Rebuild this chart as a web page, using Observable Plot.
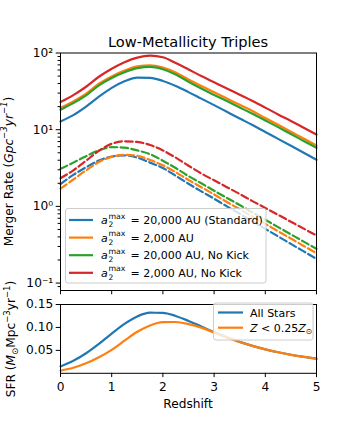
<!DOCTYPE html>
<html>
<head>
<meta charset="utf-8">
<script src="https://cdn.jsdelivr.net/npm/d3@7"></script>
<script src="https://cdn.jsdelivr.net/npm/@observablehq/plot@0.6"></script>
<style>
html,body{margin:0;padding:0;background:#fff;}
#wrap{position:relative;width:352px;height:440px;overflow:hidden;font-family:"DejaVu Sans",sans-serif;}
#wrap svg{position:absolute;left:0;}
</style>
</head>
<body>
<div id="wrap"></div>
<script>
// ---- data ----
const redshift = [0,0.25,0.5,0.75,1,1.25,1.5,1.75,2,2.25,2.5,2.75,3,3.25,3.5,3.75,4,4.25,4.5,4.75,5];

// merger rates (Gpc^-3 yr^-1), solid curves
const standardSolid    = [12.8,15.5,20.0,26.9,35.1,42.7,47.6,47.3,43.2,37.2,30.9,25.4,20.9,17.1,14.0,11.5,9.33,7.59,6.17,5.01,4.06];
const a2000Solid       = [19.3,23.4,29.5,39.8,49.5,58.9,66.8,69.2,64.6,55.6,45.2,37.1,30.8,25.5,21.1,17.5,14.2,11.6,9.42,7.66,6.22];
const noKickSolid      = [18.2,22.2,28.0,37.8,47.3,56.2,63.5,65.8,61.4,52.5,42.2,34.4,28.4,23.6,19.5,16.1,13.2,10.8,8.77,7.14,5.81];
const a2000NoKickSolid = [22.9,28.2,36.3,49.0,62.4,75.9,87.1,92.3,88.1,74.1,61.0,50.1,41.5,34.4,28.6,23.7,19.4,15.8,13.0,10.6,8.65];

// dashed curves
const standardDashed    = [1.95,2.57,3.24,3.96,4.47,4.61,4.32,3.72,3.16,2.51,1.97,1.57,1.26,1.00,0.800,0.638,0.509,0.406,0.324,0.259,0.207];
const a2000Dashed       = [1.70,2.24,2.95,3.78,4.42,4.70,4.57,4.03,3.43,2.79,2.21,1.78,1.43,1.14,0.918,0.736,0.592,0.474,0.381,0.305,0.245];
const noKickDashed      = [3.08,3.72,4.52,5.37,5.92,5.82,5.37,4.79,3.94,3.16,2.48,2.00,1.60,1.29,1.04,0.832,0.668,0.537,0.432,0.347,0.280];
const a2000NoKickDashed = [2.33,2.95,3.94,5.31,6.55,7.05,6.92,6.31,5.37,4.32,3.39,2.69,2.19,1.78,1.45,1.17,0.955,0.776,0.631,0.513,0.418];

// star formation rate (Msun Mpc^-3 yr^-1)
const sfrAllStars = [0.0150,0.0272,0.0438,0.0642,0.0867,0.1079,0.1240,0.1321,0.1319,0.1250,0.1142,0.1020,0.0898,0.0786,0.0685,0.0598,0.0523,0.0459,0.0404,0.0358,0.0318];
const sfrLowZ     = [0.0060,0.0122,0.0219,0.0350,0.0511,0.0712,0.0905,0.1044,0.1115,0.1119,0.1073,0.0995,0.0889,0.0783,0.0684,0.0597,0.0522,0.0458,0.0403,0.0357,0.0317];

const seriesLabels = ["= 20,000 AU (Standard)", "= 2,000 AU", "= 20,000 AU, No Kick", "= 2,000 AU, No Kick"];
const colors = ["#1f77b4","#ff7f0e","#2ca02c","#d62728"];
const majorTicks = [0.1, 1, 10, 100];
const majorLabels = ["10⁻¹", "10⁰", "10¹", "10²"];
const minorTicks = [0.09,0.2,0.3,0.4,0.5,0.6,0.7,0.8,0.9,2,3,4,5,6,7,8,9,20,30,40,50,60,70,80,90];
const xTicks = [0,1,2,3,4,5];
const sfrTicks = [0.05,0.10,0.15];

// ---- build ----
const FONT = "DejaVu Sans, sans-serif";
const rows = arr => redshift.map((z,i)=>({z, v: arr[i]}));
const solid = [standardSolid, a2000Solid, noKickSolid, a2000NoKickSolid];
const dashed = [standardDashed, a2000Dashed, noKickDashed, a2000NoKickDashed];

const mainMarks = [];
solid.forEach((arr,i)=>{
  mainMarks.push(Plot.line(rows(arr), {x:"z", y:"v", stroke: colors[i], strokeWidth: 2.2, curve: "monotone-x"}));
  mainMarks.push(Plot.line(rows(dashed[i]), {x:"z", y:"v", stroke: colors[i], strokeWidth: 2.2, strokeDasharray: "7.5,3.3", curve: "monotone-x"}));
});
mainMarks.push(
  Plot.axisY(minorTicks, {tickSize: 2.4, tickFormat: () => "", label: null}),
  Plot.axisY(majorTicks, {tickSize: 4.3, tickPadding: 3, tickFormat: d => majorLabels[majorTicks.indexOf(d)], label: null}),
  Plot.axisX(xTicks, {tickSize: 4.3, tickFormat: () => "", label: null}),
  Plot.frame({stroke: "black", strokeWidth: 1})
);

const mainSvg = Plot.plot({
  width: 352, height: 300,
  marginTop: 52.5, marginBottom: 10, marginLeft: 60, marginRight: 36,
  x: {domain: [0,5]},
  y: {type: "log", domain: [0.08, 100]},
  style: {fontFamily: FONT, fontSize: "12.2px", background: "transparent", overflow: "visible", color: "black"},
  marks: mainMarks
});
mainSvg.style.top = "0px";

const sfrSvg = Plot.plot({
  width: 352, height: 130,
  marginTop: 14, marginBottom: 47.2, marginLeft: 60, marginRight: 36,
  x: {domain: [0,5]},
  y: {domain: [0, 0.15]},
  style: {fontFamily: FONT, fontSize: "12.2px", background: "transparent", overflow: "visible", color: "black"},
  marks: [
    Plot.line(rows(sfrAllStars), {x:"z", y:"v", stroke: colors[0], strokeWidth: 2.2, curve: "monotone-x"}),
    Plot.line(rows(sfrLowZ), {x:"z", y:"v", stroke: colors[1], strokeWidth: 2.2, curve: "monotone-x"}),
    Plot.axisY(sfrTicks, {tickSize: 4.3, tickPadding: 3, tickFormat: d3.format(".2f"), label: null}),
    Plot.axisX(xTicks, {tickSize: 4.3, tickPadding: 5, tickFormat: d3.format("d"), label: null}),
    Plot.frame({stroke: "black", strokeWidth: 1})
  ]
});
sfrSvg.style.top = "290px";

const wrap = document.getElementById("wrap");
wrap.appendChild(mainSvg);
wrap.appendChild(sfrSvg);

// rich text helper
function richText(sel, x, y, parts, {size = 12.2, anchor = "start", rotate = 0} = {}) {
  const t = sel.append("text")
    .attr("transform", `translate(${x},${y}) rotate(${rotate})`)
    .attr("text-anchor", anchor)
    .attr("font-size", size)
    .attr("font-family", FONT)
    .attr("fill", "black");
  let shift = 0;
  parts.forEach(p => {
    const ts = t.append("tspan").text(p.t);
    let target = 0, fs = size;
    if (p.sup) { target = -size * 0.42; fs = size * 0.7; }
    if (p.sub) { target = size * 0.22; fs = size * 0.7; }
    ts.attr("dy", target - shift).attr("font-size", fs);
    if (p.i) ts.attr("font-style", "italic");
    shift = target;
  });
  return t;
}
function plainText(sel, x, y, str, size, anchor = "start", italic = false) {
  const t = sel.append("text").attr("x", x).attr("y", y).attr("text-anchor", anchor)
    .attr("font-size", size).attr("font-family", FONT).attr("fill", "black").text(str);
  if (italic) t.attr("font-style", "italic");
  return t;
}

const m = d3.select(mainSvg);
plainText(m, 188, 46.5, "Low-Metallicity Triples", 14.6, "middle");
richText(m, 12.5, 171.5, [
  {t: "Merger Rate ("}, {t: "Gpc", i: true}, {t: "−3", sup: true, i: true},
  {t: "yr", i: true}, {t: "−1", sup: true, i: true}, {t: ")"}
], {anchor: "middle", rotate: -90});

// legend (main)
const lg = m.append("g");
lg.append("rect").attr("x", 65.5).attr("y", 208.5).attr("width", 200.5).attr("height", 74.5)
  .attr("rx", 2.5).attr("fill", "white").attr("fill-opacity", 0.8).attr("stroke", "#cccccc").attr("stroke-width", 1);
seriesLabels.forEach((lab, i) => {
  const y = 220 + i * 17.6;
  lg.append("line").attr("x1", 69).attr("x2", 93).attr("y1", y).attr("y2", y)
    .attr("stroke", colors[i]).attr("stroke-width", 2.2);
  plainText(lg, 101, y + 4, "a", 11, "start", true);
  plainText(lg, 108.5, y - 1.5, "max", 7.8);
  plainText(lg, 108.5, y + 7, "2", 7.5);
  plainText(lg, 130.5, y + 4, lab, 11);
});

const s = d3.select(sfrSvg);
richText(s, 15, 49, [
  {t: "SFR ("}, {t: "M", i: true}, {t: "⊙", sub: true}, {t: "Mpc"}, {t: "−3", sup: true},
  {t: "yr"}, {t: "−1", sup: true}, {t: ")"}
], {anchor: "middle", rotate: -90});
plainText(s, 188, 118, "Redshift", 12.2, "middle");

const sl = s.append("g");
sl.append("rect").attr("x", 213.5).attr("y", 13).attr("width", 99.5).attr("height", 37)
  .attr("rx", 2.5).attr("fill", "white").attr("fill-opacity", 0.8).attr("stroke", "#cccccc").attr("stroke-width", 1);
sl.append("line").attr("x1", 218).attr("x2", 243).attr("y1", 22.5).attr("y2", 22.5).attr("stroke", colors[0]).attr("stroke-width", 2.2);
sl.append("line").attr("x1", 218).attr("x2", 243).attr("y1", 37.7).attr("y2", 37.7).attr("stroke", colors[1]).attr("stroke-width", 2.2);
plainText(sl, 250, 26.5, "All Stars", 11);
richText(sl, 250, 41.7, [
  {t: "Z", i: true}, {t: " < 0.25"}, {t: "Z", i: true}, {t: "⊙", sub: true}
], {size: 11});
</script>
</body>
</html>
